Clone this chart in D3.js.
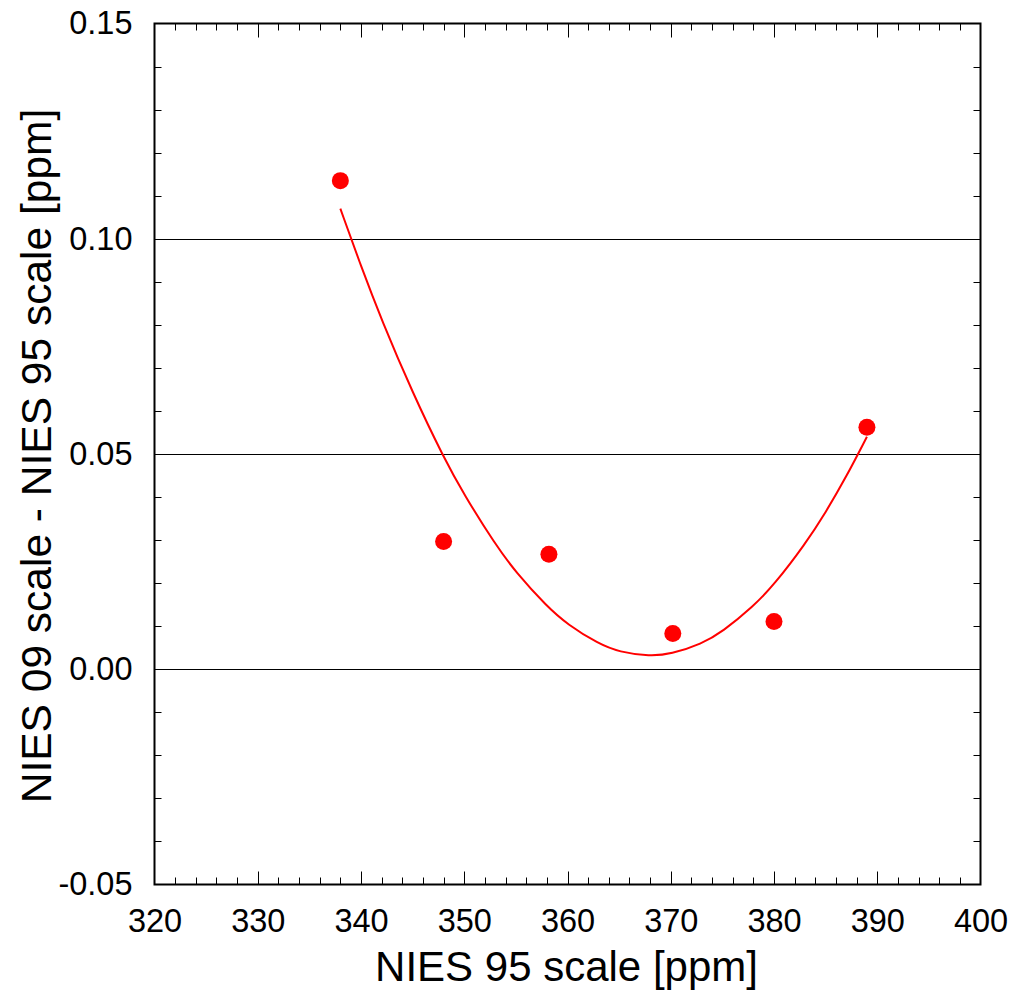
<!DOCTYPE html>
<html>
<head>
<meta charset="utf-8">
<script src="https://cdn.jsdelivr.net/npm/d3@7"></script>
<style>
  html, body { margin: 0; padding: 0; background: #fff; }
  svg { display: block; }
  text { font-family: "Liberation Sans", Arial, sans-serif; fill: #000; }
</style>
</head>
<body>
<svg id="chart" width="1012" height="991"></svg>
<script>
// Data
const pointX = [338, 348, 358.2, 370.2, 380, 389];
const pointY = [0.1135, 0.0297, 0.0267, 0.0083, 0.0111, 0.0562];

// Fitted curve
const curveX = [338, 340, 342, 345, 348, 350, 353, 355, 358, 360, 363, 365, 368, 370, 373, 375, 378, 380, 383, 385, 387, 389];
const curveY = [0.1070, 0.0936, 0.0811, 0.0642, 0.0492, 0.0405, 0.0290, 0.0225, 0.0146, 0.0104, 0.0059, 0.0040, 0.0030, 0.0035, 0.0059, 0.0087, 0.0146, 0.0196, 0.0290, 0.0364, 0.0447, 0.0540];

const xTicks = [320, 330, 340, 350, 360, 370, 380, 390, 400];
const yTicks = [-0.05, 0.00, 0.05, 0.10, 0.15];
const yGrid = [0.00, 0.05, 0.10];
const xTitle = "NIES 95 scale [ppm]";
const yTitle = "NIES 09 scale - NIES 95 scale [ppm]";

const L = 154.5, R = 980.5, T = 23.5, B = 884.5;
const svg = d3.select("#chart");
const x = d3.scaleLinear().domain([320, 400]).range([L, R]);
const y = d3.scaleLinear().domain([-0.05, 0.15]).range([B, T]);

const minorX = d3.range(322, 400, 2).filter(v => v % 10 !== 0);
const majorXInner = d3.range(330, 400, 10);
const minorY = d3.range(-4, 15).map(i => i / 100).filter(v => Math.abs(Math.round(v * 100)) % 5 !== 0);

const g = svg.append("g");

// gridlines
g.selectAll("line.grid").data(yGrid).join("line")
  .attr("x1", L).attr("x2", R)
  .attr("y1", d => Math.round(y(d)) + 0.5).attr("y2", d => Math.round(y(d)) + 0.5)
  .attr("stroke", "#000").attr("stroke-width", 1);

// bottom axis (ticks inward)
const bottomAxis = d3.axisBottom(x).tickValues(xTicks).tickSize(0).tickPadding(24).tickFormat(d3.format("d"));
const bx = svg.append("g").attr("transform", `translate(0,${B})`).call(bottomAxis);
bx.select(".domain").remove();
bx.selectAll("text").attr("font-size", 32.5).attr("font-family", "Liberation Sans, Arial, sans-serif").attr("dy", "0.72em");

// left axis labels
const fmtY = v => d3.format(".2f")(v).replace("\u2212", "-");
const leftAxis = d3.axisLeft(y).tickValues(yTicks).tickSize(0).tickPadding(22).tickFormat(fmtY);
const ly = svg.append("g").attr("transform", `translate(${L},0)`).call(leftAxis);
ly.select(".domain").remove();
ly.selectAll("text").attr("font-size", 32.5).attr("font-family", "Liberation Sans, Arial, sans-serif");

// tick marks
const tk = svg.append("g").attr("stroke", "#000").attr("stroke-width", 1);
minorX.forEach(v => {
  const xx = Math.round(x(v)) + 0.5;
  tk.append("line").attr("x1", xx).attr("x2", xx).attr("y1", B).attr("y2", B - 7);
  tk.append("line").attr("x1", xx).attr("x2", xx).attr("y1", T).attr("y2", T + 7);
});
majorXInner.forEach(v => {
  const xx = Math.round(x(v)) + 0.5;
  tk.append("line").attr("x1", xx).attr("x2", xx).attr("y1", B).attr("y2", B - 13);
  tk.append("line").attr("x1", xx).attr("x2", xx).attr("y1", T).attr("y2", T + 14);
});
minorY.forEach(v => {
  const yy = Math.round(y(v)) + 0.5;
  tk.append("line").attr("x1", L).attr("x2", L + 7).attr("y1", yy).attr("y2", yy);
  tk.append("line").attr("x1", R).attr("x2", R - 7).attr("y1", yy).attr("y2", yy);
});

// frame
svg.append("rect").attr("x", L).attr("y", T).attr("width", R - L).attr("height", B - T)
  .attr("fill", "none").attr("stroke", "#000").attr("stroke-width", 2);

// curve
const curveData = curveX.map((v, i) => [v, curveY[i]]);
svg.append("path").datum(curveData)
  .attr("fill", "none").attr("stroke", "#ff0000").attr("stroke-width", 2)
  .attr("d", d3.line().x(d => x(d[0])).y(d => y(d[1])).curve(d3.curveBasis));

// points
const pts = pointX.map((v, i) => [v, pointY[i]]);
svg.selectAll("circle.pt").data(pts).join("circle")
  .attr("cx", d => x(d[0])).attr("cy", d => y(d[1])).attr("r", 8.5)
  .attr("fill", "#ff0000");

// titles
svg.append("text").attr("x", (L + R) / 2 - 1).attr("y", 981)
  .attr("text-anchor", "middle").attr("font-size", 42).text(xTitle);
svg.append("text").attr("transform", `translate(51,456) rotate(-90)`)
  .attr("text-anchor", "middle").attr("font-size", 42.5).text(yTitle);
</script>
</body>
</html>
